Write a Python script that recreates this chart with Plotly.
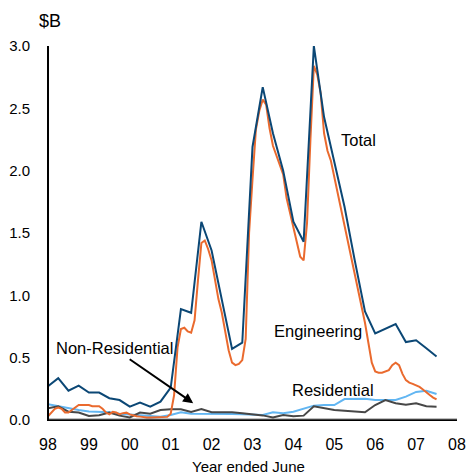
import numpy as np
import plotly.graph_objects as go

# ---- data (A$ billion) ----
# Quarterly series, starting June 1998 (year-ended June axis)
total = [0.27, 0.335, 0.235, 0.275, 0.22, 0.22, 0.175, 0.16, 0.107, 0.14,
         0.107, 0.147, 0.26, 0.89, 0.86, 1.59, 1.36, 0.95, 0.57, 0.62,
         2.19, 2.67, 2.30, 2.00, 1.59, 1.43, 3.00, 2.43, 2.06, 1.71,
         1.28, 0.87, 0.695, 0.73, 0.77, 0.625, 0.64, 0.575, 0.51]

non_residential = [0.094, 0.11, 0.067, 0.06, 0.033, 0.038, 0.06, 0.035, 0.02, 0.06,
                   0.05, 0.08, 0.086, 0.086, 0.065, 0.088, 0.062, 0.062, 0.062, 0.055,
                   0.046, 0.037, 0.02, 0.04, 0.03, 0.035, 0.11, 0.095, 0.08, 0.075,
                   0.07, 0.062, 0.12, 0.16, 0.134, 0.122, 0.134, 0.11, 0.107]

residential = [0.126, 0.11, 0.095, 0.08, 0.068, 0.065, 0.062, 0.05, 0.045, 0.035,
               0.03, 0.027, 0.04, 0.062, 0.05, 0.048, 0.048, 0.048, 0.048, 0.047,
               0.046, 0.04, 0.062, 0.055, 0.067, 0.09, 0.115, 0.12, 0.12, 0.168,
               0.17, 0.17, 0.16, 0.16, 0.16, 0.187, 0.225, 0.235, 0.208]

# Monthly series, starting June 1998
engineering = [0.03, 0.06, 0.09, 0.10, 0.09, 0.06, 0.06, 0.08, 0.10, 0.12,
               0.12, 0.12, 0.12, 0.11, 0.11, 0.11, 0.09, 0.06, 0.046, 0.065,
               0.06, 0.046, 0.055, 0.059, 0.045, 0.035, 0.03, 0.027, 0.022, 0.02,
               0.02, 0.02, 0.02, 0.02, 0.022, 0.025, 0.05, 0.20, 0.58, 0.73,
               0.74, 0.71, 0.70, 0.80, 1.12, 1.42, 1.44, 1.37, 1.28, 1.12,
               0.97, 0.86, 0.72, 0.56, 0.46, 0.44, 0.45, 0.48, 0.65, 1.50,
               1.93, 2.33, 2.48, 2.57, 2.53, 2.34, 2.20, 2.12, 2.05, 1.97,
               1.78, 1.66, 1.53, 1.41, 1.31, 1.28, 1.58, 2.25, 2.84, 2.77,
               2.62, 2.30, 2.16, 2.08, 1.95, 1.84, 1.71, 1.58, 1.44, 1.31,
               1.17, 1.04, 0.92, 0.78, 0.62, 0.46, 0.39, 0.38, 0.38, 0.39,
               0.40, 0.44, 0.46, 0.44, 0.37, 0.32, 0.30, 0.29, 0.28, 0.265,
               0.245, 0.22, 0.20, 0.18, 0.165]

tick_years = list(range(1998, 2009))
tick_text = ["98", "99", "00", "01", "02", "03", "04", "05", "06", "07", "08"]
y_ticks = [0.0, 0.5, 1.0, 1.5, 2.0, 2.5, 3.0]

t_q = 1998 + np.arange(len(total)) / 4.0
t_m = 1998 + np.arange(len(engineering)) / 12.0

FONT = "Arial, Liberation Sans, sans-serif"
C_TOTAL = "#0B4775"
C_ENG = "#EA6A2E"
C_RES = "#62B6F2"
C_NON = "#474747"

W, H = 475, 474
ML, MR, MT, MB = 46, 9, 46, 54
PW, PH = W - ML - MR, H - MT - MB


def px(xp, yp):
    """convert pixel position in the figure to plot-area paper coords"""
    return (xp - ML) / PW, (H - MB - yp) / PH


fig = go.Figure()
fig.add_trace(go.Scatter(x=t_q, y=residential, mode="lines",
                         line=dict(color=C_RES, width=2), name="Residential"))
fig.add_trace(go.Scatter(x=t_q, y=non_residential, mode="lines",
                         line=dict(color=C_NON, width=2), name="Non-Residential"))
fig.add_trace(go.Scatter(x=t_m, y=engineering, mode="lines",
                         line=dict(color=C_ENG, width=2), name="Engineering"))
fig.add_trace(go.Scatter(x=t_q, y=total, mode="lines",
                         line=dict(color=C_TOTAL, width=2), name="Total"))


def label(text, xp, yp, size=16.5, xanchor="left"):
    x, y = px(xp, yp)
    fig.add_annotation(text=text, x=x, y=y, xref="paper", yref="paper",
                       xanchor=xanchor, yanchor="middle", showarrow=False,
                       font=dict(family=FONT, size=size, color="#000000"))


label("Total", 345, 140)
label("Engineering", 276, 331)
label("Residential", 295, 390)
label("Non-Residential", 52, 348)
label("$B", 35, 21, size=18)
label("Year ended June", 252, 466, size=15, xanchor="center")

# arrow pointing at the Non-Residential line
fig.add_annotation(x=2001.55, y=0.135, xref="x", yref="y", text="",
                   showarrow=True, arrowhead=2, arrowsize=1, arrowwidth=2,
                   arrowcolor="#000000", ax=-65, ay=-45)

# axis lines drawn as shapes just inside the plot edge
fig.add_shape(type="line", xref="paper", yref="paper", x0=0.001, x1=0.001, y0=0, y1=1,
              line=dict(color="#000000", width=1.2), layer="above")
fig.add_shape(type="line", xref="paper", yref="paper", x0=0, x1=1, y0=0.002, y1=0.002,
              line=dict(color="#000000", width=1.2), layer="above")

fig.update_layout(
    width=W, height=H,
    margin=dict(l=ML, r=MR, t=MT, b=MB),
    paper_bgcolor="white", plot_bgcolor="white",
    showlegend=False,
    font=dict(family=FONT, color="#000000"),
    xaxis=dict(range=[1998, 2008], tickvals=tick_years, ticktext=tick_text,
               showgrid=False, zeroline=False,
               showline=True, linecolor="black", linewidth=1,
               ticks="", tickfont=dict(size=16), ticklabelstandoff=10),
    yaxis=dict(range=[0, 3.0], tickvals=y_ticks, tickformat=".1f",
               showgrid=False, zeroline=False,
               showline=True, linecolor="black", linewidth=1,
               ticks="", tickfont=dict(size=15), ticklabelstandoff=14),
)

fig.write_html("out.html", config={"displayModeBar": False},
               post_script="document.body.style.margin='0';")
